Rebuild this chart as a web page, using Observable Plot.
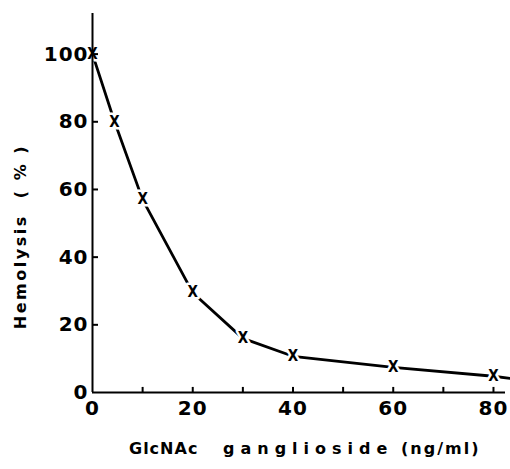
<!DOCTYPE html>
<html><head><meta charset="utf-8">
<script src="https://cdn.jsdelivr.net/npm/d3@7"></script>
<script src="https://cdn.jsdelivr.net/npm/@observablehq/plot@0.6"></script>
<style>body{margin:0;background:#fff}</style>
</head><body><div id="chart"></div>
<script>
// Data
const concentration = [0, 4.4, 10, 20, 30, 40, 60, 80];      // ng/ml
const hemolysis     = [100, 80, 57, 29.5, 16, 10.7, 7.4, 4.8]; // %
const tailConcentration = [80, 83.3];
const tailHemolysis     = [4.8, 4.2];
const xTicks = [0, 20, 40, 60, 80];
const xTickMarks = [10, 20, 30, 40, 50, 60, 70, 80];
const yTicks = [0, 20, 40, 60, 80, 100];
const xDomain = [0, 82.4];
const yDomain = [0, 112];
const xTitleA = "GlcNAc";
const xTitleB = "ganglioside";
const xTitleC = "(ng/ml)";
const yTitle = "Hemolysis  ( % )";

const points = concentration.map((c, i) => ({c, h: hemolysis[i]}));
const linePts = points.concat(tailConcentration.slice(1).map((c, i) => ({c, h: tailHemolysis[i + 1]})));

const font = "DejaVu Sans";
const chart = Plot.plot({
  width: 510, height: 469,
  marginLeft: 92, marginRight: 5, marginTop: 13, marginBottom: 77,
  style: {fontFamily: font, fontWeight: "bold", background: "#fff", color: "#000"},
  x: {domain: xDomain, axis: null},
  y: {domain: yDomain, axis: null},
  marks: [
    Plot.line(linePts, {x: "c", y: "h", stroke: "#000", strokeWidth: 2.8}),
    Plot.text(points, {x: "c", y: "h", text: () => "X", fontSize: 15, fontWeight: "bold",
      fontFamily: "DejaVu Sans Condensed, DejaVu Sans", fill: "#000", stroke: "#fff", strokeWidth: 5}),
    Plot.ruleX([0], {y1: yDomain[0], y2: yDomain[1], stroke: "#000", strokeWidth: 2}),
    Plot.ruleY([0], {x1: xDomain[0], x2: xDomain[1], stroke: "#000", strokeWidth: 2}),
    Plot.ruleY(yTicks.filter(d => d > 0), {y: d => d, x1: 0, x2: 1.2, stroke: "#000", strokeWidth: 2}),
    Plot.ruleX(xTickMarks, {x: d => d, y1: 0, y2: 1.5, stroke: "#000", strokeWidth: 2}),
    Plot.axisX({ticks: xTicks, tickSize: 0, tickPadding: 8, fontSize: 20, fontWeight: "bold", label: null}),
    Plot.axisY({ticks: yTicks, tickSize: 0, tickPadding: 4, fontSize: 20, fontWeight: "bold", label: null}),
    Plot.text([xTitleA], {frameAnchor: "bottom", textAnchor: "start", dx: -170, dy: 61, fontSize: 16, fontWeight: "bold"}),
    Plot.text([xTitleB], {frameAnchor: "bottom", textAnchor: "start", dx: -76, dy: 61, fontSize: 16, fontWeight: "bold"}),
    Plot.text([xTitleC], {frameAnchor: "bottom", textAnchor: "start", dx: 102, dy: 61, fontSize: 16, fontWeight: "bold"}),
    Plot.text([yTitle], {frameAnchor: "left", rotate: -90, textAnchor: "middle", dx: -72, dy: 33.5, fontSize: 16, fontWeight: "bold"})
  ]
});
document.getElementById("chart").append(chart);
const svg = d3.select(chart);
svg.selectAll("text").each(function() {
  const t = this.textContent;
  if (t === xTitleA) this.setAttribute("letter-spacing", "1");
  else if (t === xTitleB) this.setAttribute("letter-spacing", "6");
  else if (t === xTitleC) this.setAttribute("letter-spacing", "2");
  else if (t === yTitle) this.setAttribute("letter-spacing", "2.5");
  else if (/^\d+$/.test(t)) this.setAttribute("letter-spacing", "1");
});
</script></body></html>
